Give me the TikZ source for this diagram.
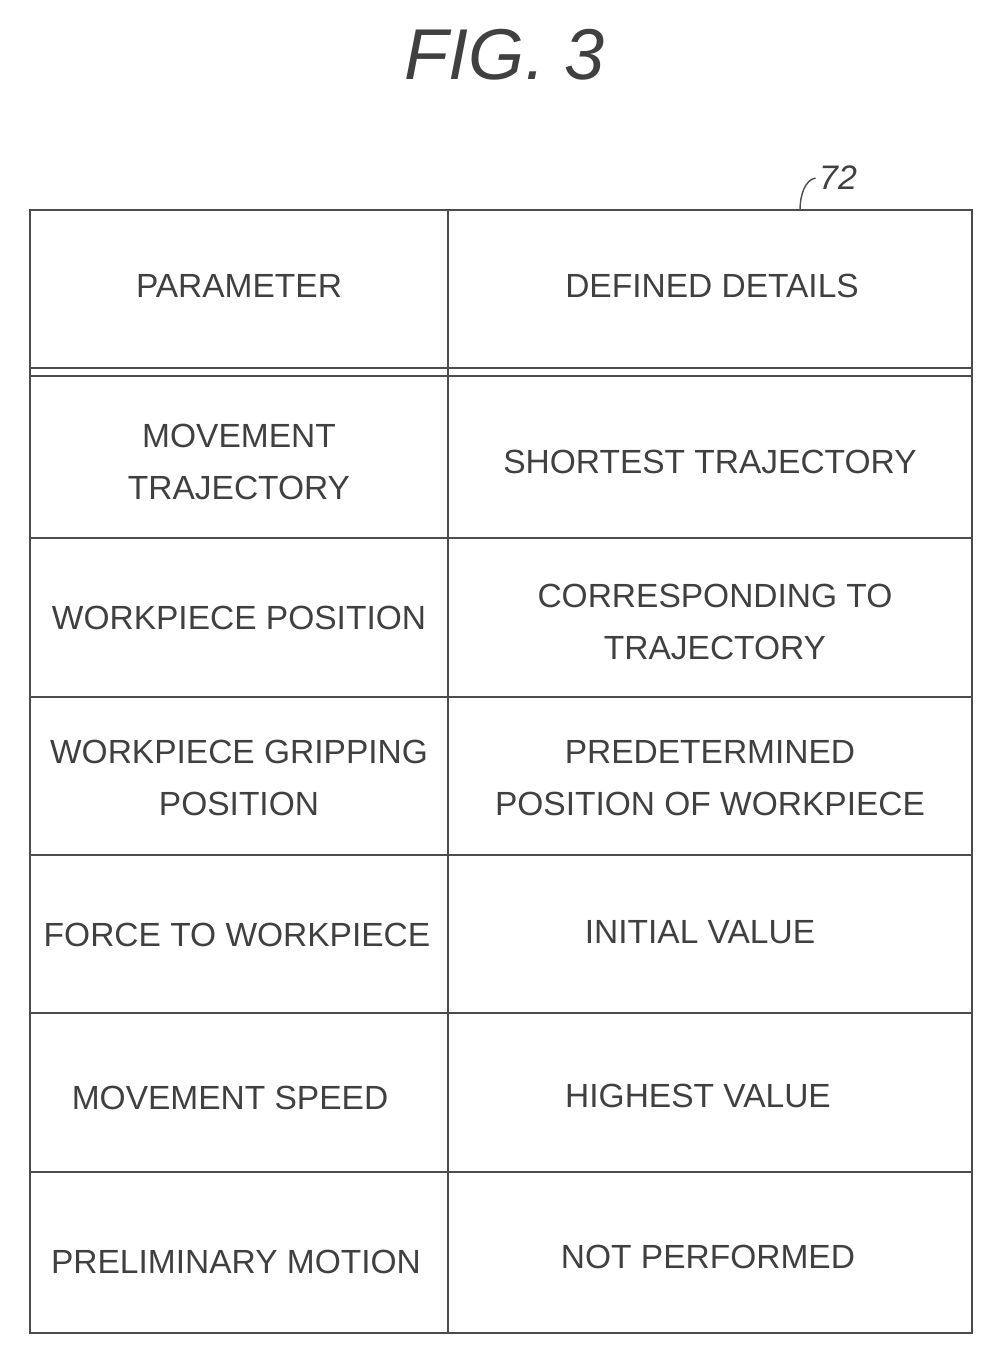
\documentclass[tikz,border=0pt]{standalone}
\usepackage{fontspec}
\setmainfont{Liberation Sans}
\begin{document}
\begin{tikzpicture}[x=1pt,y=-1pt,
  cell/.style={font=\fontsize{33.5}{52}\selectfont, text=black!75, align=center},
  grid/.style={draw=black!70, line width=1.6pt}]
\useasboundingbox (0,0) rectangle (997,1361);
\node[font=\fontsize{72}{80}\selectfont\itshape, text=black!75] (fig) at (505,55) {FIG. 3};
\draw[grid] (30,210) rectangle (972,1333);
\draw[grid] (30,368) -- (972,368);
\draw[grid] (30,376) -- (972,376);
\foreach \y in {538,697,855,1013,1172} \draw[grid] (30,\y) -- (972,\y);
\draw[grid] (448,210) -- (448,1333);
\node[font=\fontsize{34}{38}\selectfont\itshape, text=black!75] (lbl) at (838,178) {72};
\coordinate (tip) at (800,210);
\draw[black!70, line width=1.4pt] (tip) .. controls (800,195) and (805,180) .. (lbl.west);
\node[cell] (a1) at (239,286) {PARAMETER};
\node[cell] (b1) at (712,286) {DEFINED DETAILS};
\node[cell] (a2) at (239,462) {MOVEMENT\\TRAJECTORY};
\node[cell] (b2) at (710,462) {SHORTEST TRAJECTORY};
\node[cell] (a3) at (239,618) {WORKPIECE POSITION};
\node[cell] (b3) at (715,622) {CORRESPONDING TO\\TRAJECTORY};
\node[cell] (a4) at (239,778) {WORKPIECE GRIPPING\\POSITION};
\node[cell] (b4) at (710,778) {PREDETERMINED\\POSITION OF WORKPIECE};
\node[cell] (a5) at (237,935) {FORCE TO WORKPIECE};
\node[cell] (b5) at (700,932) {INITIAL VALUE};
\node[cell] (a6) at (230,1098) {MOVEMENT SPEED};
\node[cell] (b6) at (698,1096) {HIGHEST VALUE};
\node[cell] (a7) at (236,1262) {PRELIMINARY MOTION};
\node[cell] (b7) at (708,1257) {NOT PERFORMED};
\end{tikzpicture}
\end{document}
